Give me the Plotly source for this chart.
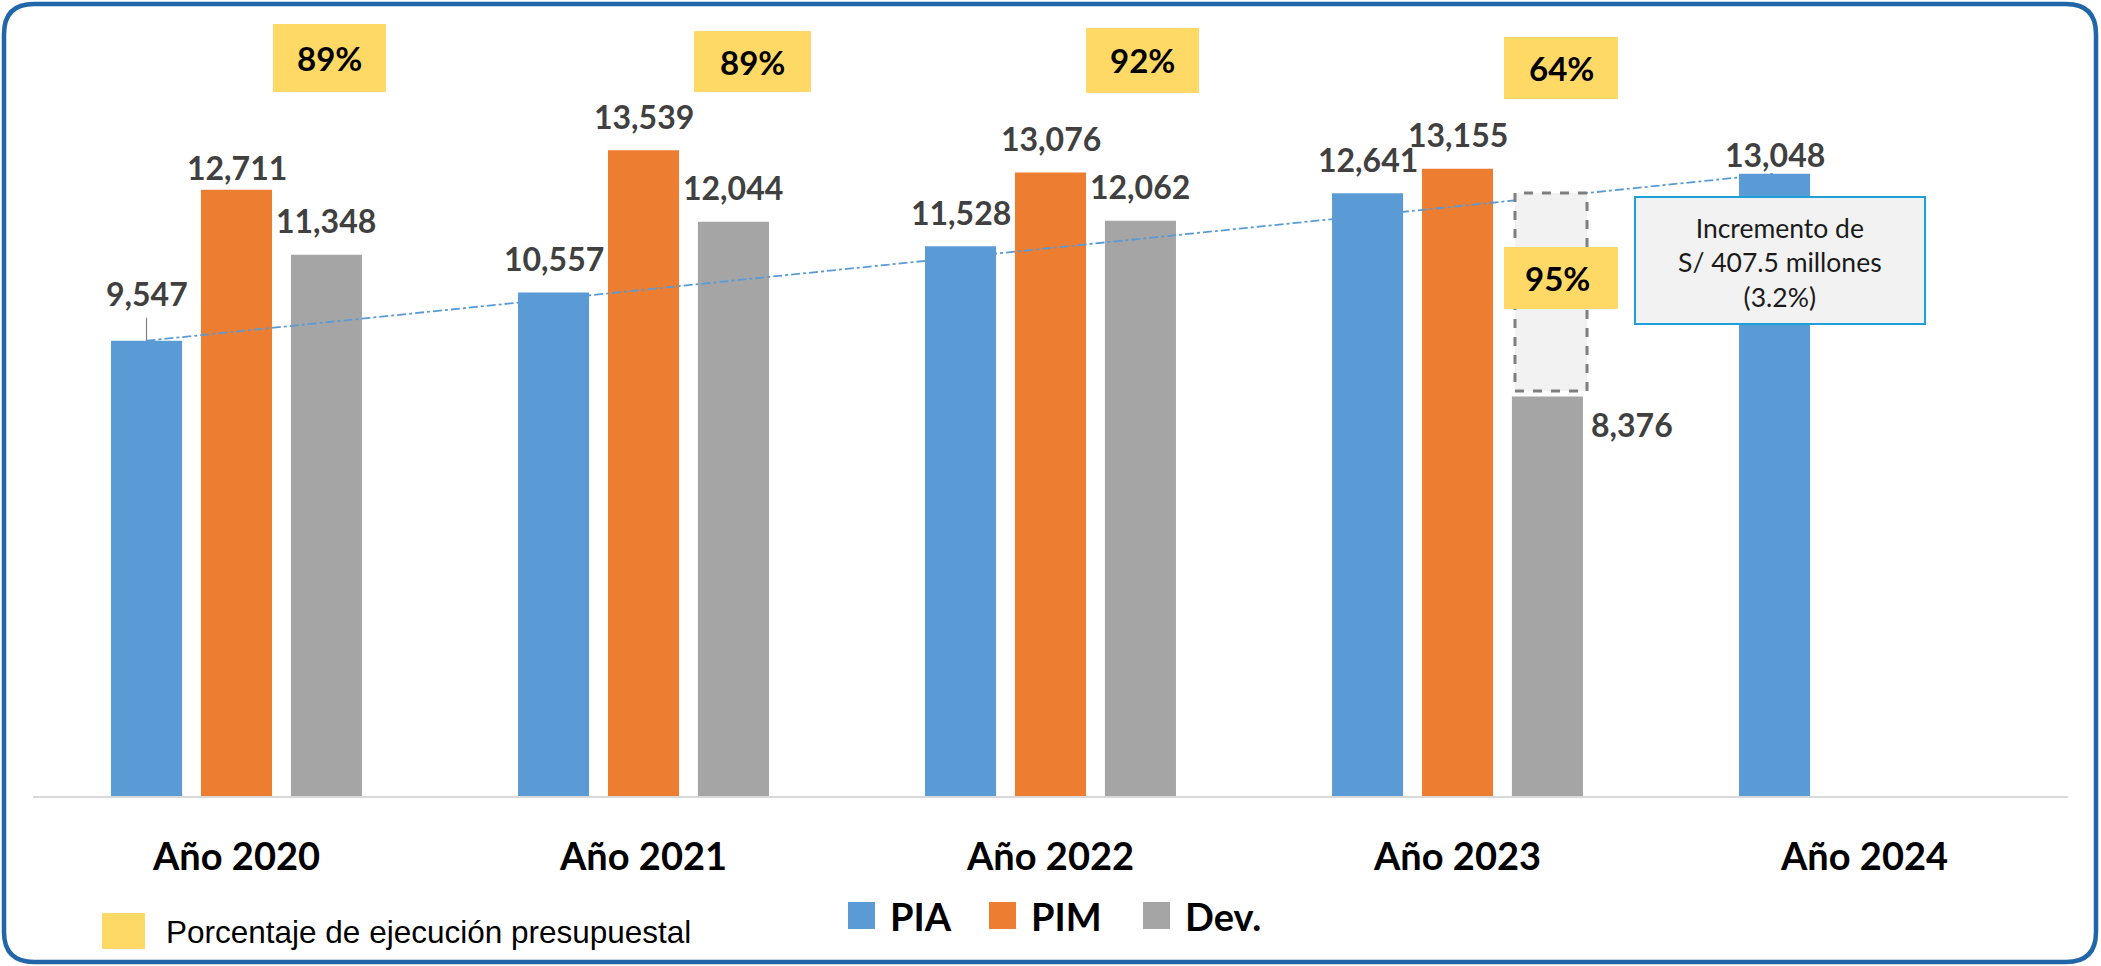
import plotly.graph_objects as go

# ---------------- data ----------------
categorias = ["Año 2020", "Año 2021", "Año 2022", "Año 2023", "Año 2024"]
pia = [9547, 10557, 11528, 12641, 13048]
pim = [12711, 13539, 13076, 13155, None]
dev = [11348, 12044, 12062, 8376, None]
ejecucion = ["89%", "89%", "92%", "64%"]
ejecucion_proyectada = "95%"
incremento_texto = "Incremento de<br>S/ 407.5 millones<br>(3.2%)"
series_nombres = ["PIA", "PIM", "Dev."]
leyenda_pct = "Porcentaje de ejecución presupuestal"

# ---------------- style / layout ----------------
colores = ["#5B9BD5", "#ED7D31", "#A5A5A5"]
AMARILLO = "#FFD966"
W, H = 2101, 966
PL, PR, PT, PB = 33, 2068, 33, 796
YMAX = 16000
PXU = (PB - PT) / YMAX
OFF = 0.2211  # offset of side bars inside a group (category units)
FONT = "Lato"


def xp(px):
    return (px - PL) / (PR - PL)


def yp(py):
    return (PB - py) / (PB - PT)


fig = go.Figure()
for nombre, vals, col in zip(series_nombres, [pia, pim, dev], colores):
    fig.add_trace(go.Bar(x=categorias, y=vals, name=nombre, marker_color=col,
                         marker_line_width=0, showlegend=False))

shapes = []
annotations = []


def rounded(x0, y0, x1, y1, r):
    pts = [("M", [(x0 + r, y0)]), ("L", [(x1 - r, y0)]), ("Q", [(x1, y0), (x1, y0 + r)]),
           ("L", [(x1, y1 - r)]), ("Q", [(x1, y1), (x1 - r, y1)]), ("L", [(x0 + r, y1)]),
           ("Q", [(x0, y1), (x0, y1 - r)]), ("L", [(x0, y0 + r)]), ("Q", [(x0, y0), (x0 + r, y0)])]
    s = ""
    for cmd, pp in pts:
        s += cmd + " ".join(f"{xp(a):.5f},{yp(b):.5f}" for a, b in pp) + " "
    return s + "Z"


# frame
shapes.append(dict(type="path", xref="paper", yref="paper", path=rounded(4, 4, 2096, 962, 30),
                   line=dict(color="#2266AA", width=4.5)))

# trend line between first and last PIA
shapes.append(dict(type="line", xref="x", yref="y", x0=0 - OFF, y0=pia[0], x1=len(pia) - 1 - OFF,
                   y1=pia[-1], line=dict(color="#5B9BD5", width=1.8, dash="dashdot")))

# leader line for first PIA label
shapes.append(dict(type="line", xref="x", yref="y", x0=-OFF, x1=-OFF, y0=pia[0],
                   y1=pia[0] + 23 / PXU, line=dict(color="#808080", width=1.2)))

# dashed projection box on Dev 2023
shapes.append(dict(type="rect", xref="paper", yref="paper", x0=xp(1515), x1=xp(1587),
                   y0=yp(391), y1=yp(193), fillcolor="#F2F2F2",
                   line=dict(color="#7F7F7F", width=3, dash="dash")))

# yellow percentage boxes
boxes = [(273, 386, 24, 92), (694, 811, 31, 92), (1086, 1199, 28, 93), (1504, 1618, 37, 99)]
for (x0, x1, y0, y1), txt in zip(boxes, ejecucion):
    shapes.append(dict(type="rect", xref="paper", yref="paper", x0=xp(x0), x1=xp(x1),
                       y0=yp(y1), y1=yp(y0), fillcolor=AMARILLO, line=dict(width=0)))
    annotations.append(dict(xref="paper", yref="paper", x=xp((x0 + x1) / 2), y=yp((y0 + y1) / 2),
                            text=f"<b>{txt}</b>", showarrow=False, xanchor="center", yanchor="middle",
                            font=dict(family=FONT, size=33, color="#000000")))
shapes.append(dict(type="rect", xref="paper", yref="paper", x0=xp(1504), x1=xp(1618),
                   y0=yp(309), y1=yp(247), fillcolor=AMARILLO, line=dict(width=0)))
annotations.append(dict(xref="paper", yref="paper", x=xp(1557), y=yp(278),
                        text=f"<b>{ejecucion_proyectada}</b>", showarrow=False,
                        xanchor="center", yanchor="middle",
                        font=dict(family=FONT, size=33, color="#000000")))

# callout box
shapes.append(dict(type="rect", xref="paper", yref="paper", x0=xp(1635), x1=xp(1925),
                   y0=yp(324), y1=yp(197), fillcolor="#F2F2F2",
                   line=dict(color="#1E9FD8", width=2)))
annotations.append(dict(xref="paper", yref="paper", x=xp(1780), y=yp(262), text=incremento_texto,
                        showarrow=False, align="center", xanchor="center", yanchor="middle",
                        font=dict(family=FONT, size=26.5, color="#1A1A1A")))

# value labels
lab_font = dict(family=FONT, size=32, color="#404040")
offs = [-OFF, 0, OFF]
special = {(0, 0): 47, (1, 0): 22, (0, 4): 19}
for s, vals in enumerate([pia, pim, dev]):
    for i, v in enumerate(vals):
        if v is None:
            continue
        txt = f"<b>{v:,}</b>"
        if s == 2 and i == 3:
            annotations.append(dict(xref="x", yref="y", x=i + offs[s], y=v, text=txt, showarrow=False,
                                    xanchor="left", yanchor="middle", xshift=42, yshift=-28,
                                    font=lab_font))
            continue
        sh = special.get((s, i), 34)
        annotations.append(dict(xref="x", yref="y", x=i + offs[s], y=v, text=txt, showarrow=False,
                                xanchor="center", yanchor="middle", yshift=sh, font=lab_font))

# manual legend
shapes.append(dict(type="rect", xref="paper", yref="paper", x0=xp(102), x1=xp(145),
                   y0=yp(949), y1=yp(913), fillcolor=AMARILLO, line=dict(width=0)))
annotations.append(dict(xref="paper", yref="paper", x=xp(164), y=yp(932), text=leyenda_pct,
                        showarrow=False, xanchor="left", yanchor="middle",
                        font=dict(family="Liberation Sans, Arial", size=31.5, color="#000000")))
leg_sq = [848, 989, 1143]
for x0, nombre, col in zip(leg_sq, series_nombres, colores):
    shapes.append(dict(type="rect", xref="paper", yref="paper", x0=xp(x0), x1=xp(x0 + 27),
                       y0=yp(929), y1=yp(902), fillcolor=col, line=dict(width=0)))
    annotations.append(dict(xref="paper", yref="paper", x=xp(x0 + 40), y=yp(916),
                            text=f"<b>{nombre}</b>", showarrow=False, xanchor="left",
                            yanchor="middle", font=dict(family=FONT, size=38, color="#000000")))

fig.update_layout(
    width=W, height=H,
    margin=dict(l=PL, r=W - PR, t=PT, b=H - PB),
    paper_bgcolor="white", plot_bgcolor="white",
    barmode="group", bargap=0.337, bargroupgap=0.21,
    showlegend=False,
    shapes=shapes, annotations=annotations,
    xaxis=dict(type="category", showline=True, linecolor="#D9D9D9", linewidth=2,
               showgrid=False, ticks="", ticklabelstandoff=26,
               tickfont=dict(family=FONT, size=38, color="#000000", weight="bold")),
    yaxis=dict(range=[0, YMAX], visible=False, showgrid=False, zeroline=False),
)

fig.write_html("out.html", config={"displayModeBar": False},
               post_script="document.body.style.margin='0';")
